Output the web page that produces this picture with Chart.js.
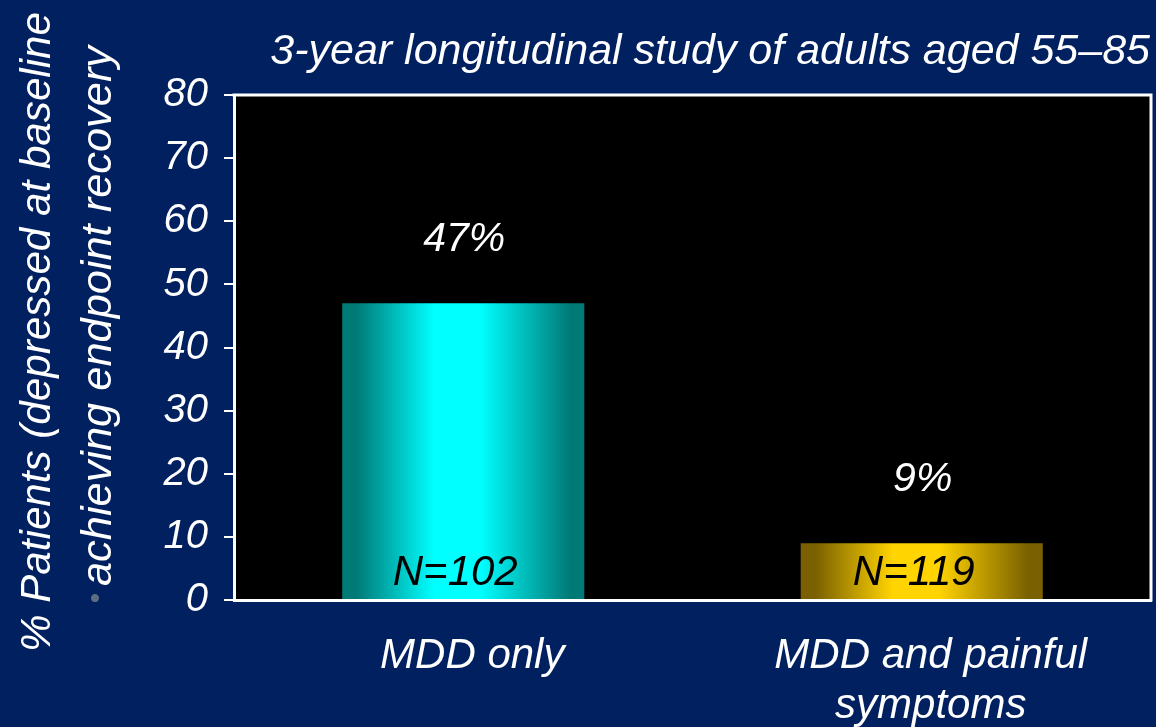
<!DOCTYPE html>
<html>
<head>
<meta charset="utf-8">
<script src="https://cdn.jsdelivr.net/npm/chart.js@4.4.1/dist/chart.umd.min.js"></script>
<style>
  html, body { margin: 0; padding: 0; background: #002060; overflow: hidden; }
  #wrap { width: 1156px; height: 727px; }
</style>
</head>
<body>
<div id="wrap"><canvas id="c" width="1156" height="727"></canvas></div>
<script>
// ---- data ----
const categories = [['MDD only'], ['MDD and painful', 'symptoms']];
const recoveryPct = [47, 9];
const sampleSizes = [102, 119];
const yMin = 0, yMax = 80, yStep = 10;
const chartTitle = '3-year longitudinal study of adults aged 55\u201385';
const yTitleLines = ['% Patients (depressed at baseline', 'achieving endpoint recovery'];

// ---- look ----
const NAVY = '#002060';
const FONT = "'Liberation Sans', Arial, sans-serif";
const BAR_FRACTION = 0.528;
const barShades = [
  ['#007A77', '#00FFFF'],
  ['#7A6000', '#FFD400']
];

function barFill(ctx) {
  const chart = ctx.chart;
  const xs = chart.scales.x;
  const shades = barShades[ctx.dataIndex % barShades.length];
  if (!xs || !isFinite(xs.width) || xs.width <= 0) return shades[1];
  const cx = xs.getPixelForValue(ctx.dataIndex);
  const half = xs.width / categories.length * BAR_FRACTION / 2;
  const g = chart.ctx.createLinearGradient(cx - half, 0, cx + half, 0);
  g.addColorStop(0, shades[0]);
  g.addColorStop(0.06, shades[0]);
  g.addColorStop(0.38, shades[1]);
  g.addColorStop(0.57, shades[1]);
  g.addColorStop(0.94, shades[0]);
  g.addColorStop(1, shades[0]);
  return g;
}

// background, black plot panel and its white frame
const panelPlugin = {
  id: 'panel',
  beforeDraw(chart) {
    const { ctx, chartArea: a, width, height } = chart;
    ctx.save();
    ctx.fillStyle = NAVY;
    ctx.fillRect(0, 0, width, height);
    ctx.fillStyle = '#000000';
    ctx.fillRect(a.left, a.top, a.right - a.left, a.bottom - a.top);
    ctx.restore();
  },
  beforeDatasetsDraw(chart) {
    const { ctx, chartArea: a } = chart;
    ctx.save();
    ctx.strokeStyle = '#FFFFFF';
    ctx.lineWidth = 3;
    ctx.beginPath();
    ctx.moveTo(a.left - 1.5, a.top);
    ctx.lineTo(a.right, a.top);
    ctx.lineTo(a.right, a.bottom + 1.5);
    ctx.stroke();
    ctx.restore();
  }
};

// title, rotated y-axis caption and bar annotations
const textPlugin = {
  id: 'texts',
  afterDatasetsDraw(chart) {
    const { ctx } = chart;
    const ys = chart.scales.y;
    const meta = chart.getDatasetMeta(0);
    ctx.save();

    // heading
    ctx.fillStyle = '#FFFFFF';
    ctx.font = 'italic 43px ' + FONT;
    ctx.textAlign = 'right';
    ctx.textBaseline = 'alphabetic';
    ctx.fillText(chartTitle, 1150, 64);

    // value labels above bars, sample sizes inside bars
    meta.data.forEach((bar, i) => {
      const v = recoveryPct[i];
      ctx.fillStyle = '#FFFFFF';
      ctx.font = 'italic 41px ' + FONT;
      ctx.textAlign = 'center';
      ctx.textBaseline = 'middle';
      ctx.fillText(v + '%', bar.x + 1, ys.getPixelForValue(v) - 64);

      ctx.fillStyle = '#000000';
      ctx.font = 'italic 42px ' + FONT;
      ctx.textBaseline = 'alphabetic';
      ctx.fillText('N=' + sampleSizes[i], bar.x - 8, ys.getPixelForValue(0) - 15);
    });

    // rotated y-axis caption (two lines)
    const drawRotated = (text, baseX, yStart, yEnd) => {
      ctx.save();
      ctx.font = 'italic 42px ' + FONT;
      const w = ctx.measureText(text).width;
      const len = yStart - yEnd;
      ctx.translate(baseX, (yStart + yEnd) / 2);
      ctx.rotate(-Math.PI / 2);
      ctx.scale(len / w, 1);
      ctx.fillStyle = '#FFFFFF';
      ctx.textAlign = 'center';
      ctx.textBaseline = 'alphabetic';
      ctx.fillText(text, 0, 0);
      ctx.restore();
    };
    drawRotated(yTitleLines[0], 50, 652, 12);
    drawRotated(yTitleLines[1], 111, 586, 46);

    // grey bullet in front of the second caption line
    ctx.save();
    ctx.translate(111, 598);
    ctx.rotate(-Math.PI / 2);
    ctx.fillStyle = '#5E6C84';
    ctx.font = '30px ' + FONT;
    ctx.textAlign = 'center';
    ctx.textBaseline = 'alphabetic';
    ctx.fillText('\u2022', 0, -6);
    ctx.restore();

    ctx.restore();
  }
};

new Chart(document.getElementById('c'), {
  type: 'bar',
  data: {
    labels: categories,
    datasets: [{
      data: recoveryPct,
      backgroundColor: barFill,
      borderWidth: 0,
      categoryPercentage: 1,
      barPercentage: BAR_FRACTION
    }]
  },
  options: {
    responsive: false,
    animation: false,
    devicePixelRatio: 1,
    layout: { padding: { top: 95, right: 5, left: 0, bottom: 0 } },
    plugins: {
      legend: { display: false },
      tooltip: { enabled: false },
      title: { display: false }
    },
    scales: {
      x: {
        grid: { display: false, drawTicks: false },
        border: { display: true, color: '#FFFFFF', width: 3 },
        ticks: {
          color: '#FFFFFF',
          font: { family: FONT, size: 42, style: 'italic', lineHeight: 1.2 },
          padding: 31,
          labelOffset: 9,
          maxRotation: 0,
          autoSkip: false
        },
        afterFit(scale) { scale.height = 127; }
      },
      y: {
        min: yMin,
        max: yMax,
        grid: {
          drawOnChartArea: false,
          drawTicks: true,
          tickLength: 10,
          color: '#FFFFFF',
          lineWidth: 2
        },
        border: { display: true, color: '#FFFFFF', width: 3 },
        ticks: {
          stepSize: yStep,
          color: '#FFFFFF',
          font: { family: FONT, size: 40, style: 'italic' },
          padding: 16
        },
        afterFit(scale) { scale.width = 234; }
      }
    }
  },
  plugins: [panelPlugin, textPlugin]
});
</script>
</body>
</html>
